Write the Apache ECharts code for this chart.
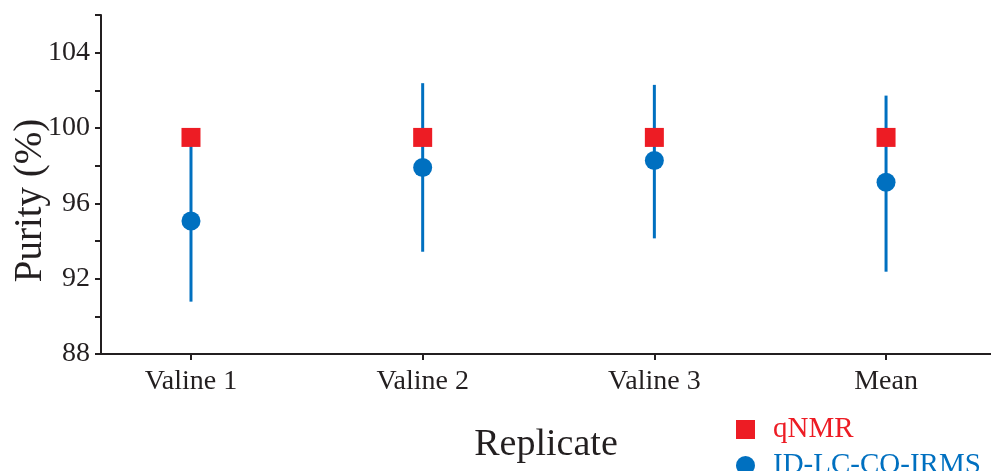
<!DOCTYPE html>
<html>
<head>
<meta charset="utf-8">
<script src="https://cdn.jsdelivr.net/npm/echarts@6/dist/echarts.min.js"></script>
<style>html,body{margin:0;padding:0;background:#fff;}#c{width:991px;height:471px;}</style>
</head>
<body>
<div id="c"></div>
<script>
const categories = ['Valine 1', 'Valine 2', 'Valine 3', 'Mean'];
const qnmrValues = [99.5, 99.5, 99.5, 99.5];
const irmsValues = [95.06, 97.9, 98.27, 97.12];
const irmsLow = [90.78, 93.43, 94.14, 92.37];
const irmsHigh = [99.34, 102.38, 102.29, 101.72];
const yTickLabels = [88, 92, 96, 100, 104];

const RED = '#ED1C24';
const BLUE = '#0070C0';
const INK = '#231F20';
const FONT = '"Liberation Serif", "Times New Roman", serif';

const xs = categories.map((c, i) => i + 1);
const qnmrData = xs.map((x, i) => [x, qnmrValues[i]]);
const irmsData = xs.map((x, i) => [x, irmsValues[i]]);
const errData = xs.map((x, i) => [x, irmsLow[i], irmsHigh[i]]);

const chart = echarts.init(document.getElementById('c'), null, {renderer: 'canvas'});
chart.setOption({
  animation: false,
  backgroundColor: '#fff',
  grid: {left: 101, right: 0, top: 15, bottom: 117, containLabel: false, outerBoundsMode: 'none'},
  xAxis: {
    type: 'value',
    min: 0.6116,
    max: 4.453,
    name: 'Replicate',
    nameLocation: 'middle',
    nameGap: 72,
    nameMoveOverlap: false,
    nameTextStyle: {fontFamily: FONT, fontSize: 38, color: INK},
    splitLine: {show: false},
    axisLine: {show: true, lineStyle: {color: INK, width: 2}},
    axisTick: {show: true, length: 6, lineStyle: {color: INK, width: 2}, customValues: xs},
    axisLabel: {
      customValues: xs,
      margin: 14,
      fontFamily: FONT, fontSize: 28, color: INK,
      formatter: v => categories[Math.round(v) - 1] || ''
    }
  },
  yAxis: {
    type: 'value',
    min: 88,
    max: 106,
    interval: 2,
    name: 'Purity (%)',
    nameLocation: 'middle',
    nameGap: 51,
    nameMoveOverlap: false,
    nameTextStyle: {fontFamily: FONT, fontSize: 39, color: INK, padding: [0, 32, 0, 0]},
    splitLine: {show: false},
    axisLine: {show: true, lineStyle: {color: INK, width: 2}},
    axisTick: {show: true, length: 6, lineStyle: {color: INK, width: 2}},
    axisLabel: {
      margin: 11,
      fontFamily: FONT, fontSize: 28, color: INK,
      formatter: v => yTickLabels.indexOf(v) >= 0 ? String(v) : ''
    }
  },
  legend: {
    orient: 'vertical',
    left: 731,
    top: 410,
    height: 200,
    itemWidth: 19,
    itemHeight: 19,
    itemGap: 7,
    data: [
      {name: 'qNMR', icon: 'rect', textStyle: {color: RED}},
      {name: 'ID-LC-CO-IRMS', icon: 'circle', textStyle: {color: BLUE}}
    ],
    textStyle: {fontFamily: FONT, fontSize: 29, padding: [0, 0, 0, 13]}
  },
  series: [
    {
      name: 'err',
      type: 'custom',
      z: 1,
      data: errData,
      encode: {x: 0, y: [1, 2]},
      renderItem: (params, api) => {
        const p1 = api.coord([api.value(0), api.value(1)]);
        const p2 = api.coord([api.value(0), api.value(2)]);
        return {
          type: 'line',
          shape: {x1: p1[0], y1: p1[1], x2: p2[0], y2: p2[1]},
          style: {stroke: BLUE, lineWidth: 3}
        };
      }
    },
    {
      name: 'ID-LC-CO-IRMS',
      type: 'scatter',
      z: 3,
      symbol: 'circle',
      symbolSize: 19,
      itemStyle: {color: BLUE, opacity: 1},
      data: irmsData
    },
    {
      name: 'qNMR',
      type: 'scatter',
      z: 4,
      symbol: 'rect',
      symbolSize: 19,
      itemStyle: {color: RED, opacity: 1},
      data: qnmrData
    }
  ]
});
</script>
</body>
</html>
